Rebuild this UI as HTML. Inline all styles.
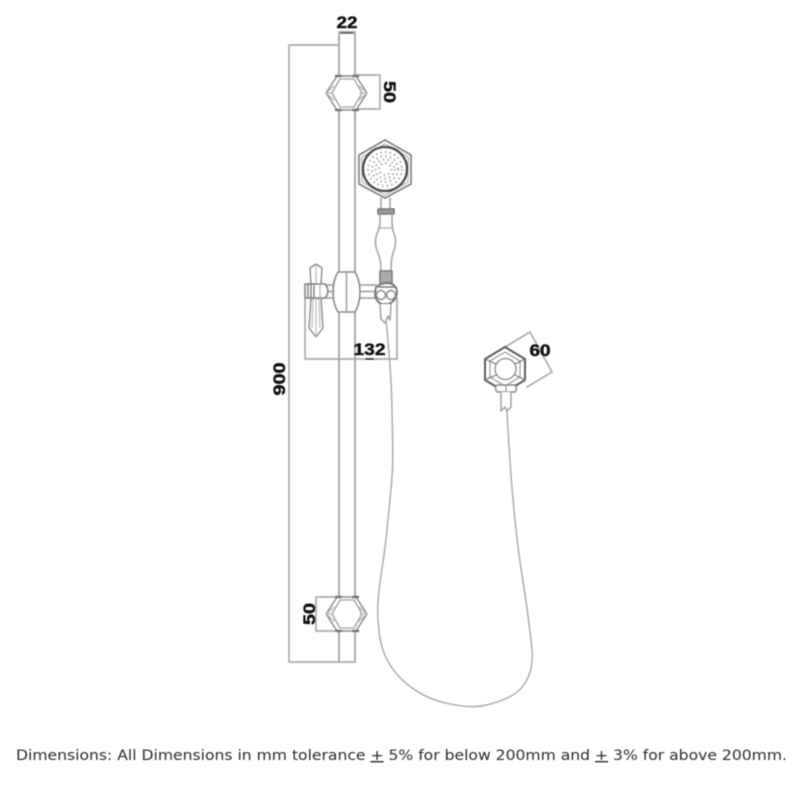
<!DOCTYPE html>
<html>
<head>
<meta charset="utf-8">
<style>
html,body{margin:0;padding:0;background:#fff;width:800px;height:800px;overflow:hidden}
svg{display:block;filter:blur(.45px)}
text{font-family:"Liberation Sans",sans-serif}
.d{font-weight:bold;font-size:17px;fill:#111;stroke:#111;stroke-width:.45px}
</style>
</head>
<body>
<svg width="800" height="800" viewBox="0 0 800 800" fill="none" stroke-linejoin="round" stroke-linecap="round">
<!-- dimension lines -->
<g stroke="#aaa" stroke-width="1.700">
<path d="M339 45H289V662H355"/>
<path d="M355 75H380V109H355"/>
<path d="M339 597H316V631H339"/>
<path d="M305 298V359H397V298"/>
<path d="M505 347L530 332L552 372L527 387"/>
</g>
<!-- rail -->
<g stroke="#a4a4a4" stroke-width="1.800">
<path d="M339 32H355V77M339 32V77"/>
<path d="M339 109V272M355 109V272M339 312V598M355 312V598"/>
<path d="M339 630V662M355 630V662"/>
</g>
<path d="M341 33H353" stroke="#555" stroke-width="1.600"/>
<!-- top bracket -->
<path d="M337 76H356L367 93L356 110H337L326 93Z" fill="#fff" stroke="#8c8c8c" stroke-width="1.500"/>
<path d="M340 79H354L362 93L354 107H340L332 93Z" stroke="#a0a0a0" stroke-width="1.300"/>
<path d="M326 93L334 86M326 93L334 100M326 93H333M367 93L359 86M367 93L359 100M367 93H360" stroke="#b4b4b4" stroke-width="1.300"/>
<path d="M336 76H341M353 76H358M336 110H341M353 110H358" stroke="#777" stroke-width="2.400"/>
<!-- bottom bracket -->
<path d="M337 597H356L367 614L356 631H337L326 614Z" fill="#fff" stroke="#8c8c8c" stroke-width="1.500"/>
<path d="M340 600H354L362 614L354 628H340L332 614Z" stroke="#a0a0a0" stroke-width="1.300"/>
<path d="M326 614L334 607M326 614L334 621M326 614H333M367 614L359 607M367 614L359 621M367 614H360" stroke="#b4b4b4" stroke-width="1.300"/>
<path d="M336 597H341M353 597H358M336 631H341M353 631H358" stroke="#777" stroke-width="2.400"/>
<!-- shower head -->
<path d="M385 140L411 155V184L385 198L359 184V155Z" fill="#fff" stroke="#808080" stroke-width="1.700"/>
<path d="M385 144L408 157V182L385 195L362 182V157Z" stroke="#b0b0b0" stroke-width="1.200"/>
<circle cx="385" cy="169" r="22" fill="#fff" stroke="#4a4a4a" stroke-width="2.200"/>
<g stroke="#a8a8a8" stroke-width="2" stroke-dasharray="1.500 3.200" stroke-linecap="butt">
<circle cx="385" cy="169" r="17"/>
<circle cx="385" cy="169" r="13"/>
<circle cx="385" cy="169" r="9.500"/>
<circle cx="385" cy="169" r="6"/>
</g>
<!-- neck and handle -->
<g stroke="#a0a0a0" stroke-width="1.500">
<path d="M381 198V209M390 198V209"/>
<path d="M378 209H394V214H378Z" fill="#999" stroke="#777"/>
<path d="M380 214V222Q380 226 378 231Q373 242 378 253Q381 260 381 270M392 214V222Q392 226 393 231Q398 242 393 253Q391 260 391 270"/>
<path d="M378 228H393" stroke="#b4b4b4"/>
<path d="M380 271H392V284H380Z" fill="#aaa" stroke="#777"/>
</g>
<!-- slider clamp -->
<path d="M338 272H355Q360 280 360 292Q360 304 355 312H338Q333 304 333 292Q333 280 338 272Z" fill="#fff" stroke="#888" stroke-width="1.600"/>
<path d="M346.500 272V312" stroke="#999" stroke-width="1.500"/>
<!-- arms -->
<g stroke="#999" stroke-width="1.400">
<path d="M322 285H334M322 298H334M322 291.500H334"/>
<path d="M360 285H376M360 298H376M360 291.500H376"/>
</g>
<!-- left lever -->
<path d="M316 264L322 268L321 285H311L310 268Z" fill="#fff" stroke="#888" stroke-width="1.400"/>
<path d="M311 298H321L323 328L316 337L309 328Z" fill="#fff" stroke="#888" stroke-width="1.400"/>
<path d="M316 264V285M316 298V337M313 298L312 328M319 298L320 328" stroke="#b4b4b4" stroke-width="1.100"/>
<path d="M305 284H325Q331 291 325 298H305Z" fill="#fff" stroke="#808080" stroke-width="1.500"/>
<path d="M308 284V298M311 284V298M314 284V298" stroke="#777" stroke-width="1.300"/>
<path d="M320 284V298" stroke="#aaa" stroke-width="1.100"/>
<!-- right holder -->
<path d="M376 287Q381 283 388 283Q396 284 397 291Q397 301 388 304H382Q376 302 375 295Z" fill="#fff" stroke="#707070" stroke-width="1.700"/>
<circle cx="381" cy="295" r="4.500" stroke="#888" stroke-width="1.400"/>
<circle cx="391" cy="295" r="4.500" stroke="#888" stroke-width="1.400"/>
<path d="M379 287H396" stroke="#777" stroke-width="1.600"/>
<path d="M380 304L381 319L385 323L388 316L390 320L391 304" fill="#fff" stroke="#999" stroke-width="1.400"/>
<!-- hose -->
<path d="M386 320Q391 370 391.750 400Q392.500 430 392.750 448.500Q393 467 391.500 483.500Q390 500 387.500 525Q385 550 382 568.500Q379 587 378 602Q377 617 379.500 635Q382 653 391 666.500Q400 680 415 690Q430 700 450 704Q470 708 481.500 706Q493 704 505 699Q517 694 523 686Q529 678 531 668Q533 658 532 649Q531 640 529 623.500Q527 607 522 575Q517 543 513.500 505Q510 467 507 412" stroke="#a6a6a6" stroke-width="1.400"/>
<!-- wall outlet -->
<path d="M505 347L525 359V380L505 392L485 380V359Z" fill="#fff" stroke="#5c5c5c" stroke-width="2"/>
<path d="M505 352L520 361V377L505 386L490 377V361Z" stroke="#999" stroke-width="1.200"/>
<circle cx="505.500" cy="369" r="10.500" fill="#fff" stroke="#888" stroke-width="1.300"/>
<path d="M485 359L496 364M525 359L515 364M485 380L496 375M525 380L515 375" stroke="#777" stroke-width="1.200"/>
<path d="M497 385H515Q518 388 515 392H497Q494 388 497 385Z" fill="#fff" stroke="#888" stroke-width="1.400"/>
<path d="M506 385V392" stroke="#888" stroke-width="1.100"/>
<path d="M501 392V411L505 407L507 411L511 407V392" fill="#fff" stroke="#999" stroke-width="1.400"/>
<!-- dimension text -->
<text class="d" x="347" y="28" text-anchor="middle" textLength="21" lengthAdjust="spacingAndGlyphs">22</text>
<text class="d" transform="translate(384 92) rotate(90)" text-anchor="middle" textLength="22" lengthAdjust="spacingAndGlyphs">50</text>
<text class="d" transform="translate(315 614) rotate(-90)" text-anchor="middle" textLength="22" lengthAdjust="spacingAndGlyphs">50</text>
<text class="d" transform="translate(285 379) rotate(-90)" text-anchor="middle" textLength="33" lengthAdjust="spacingAndGlyphs">900</text>
<text class="d" x="369.500" y="355" text-anchor="middle" textLength="32" lengthAdjust="spacingAndGlyphs">132</text>
<path d="M366 359H373" stroke="#111" stroke-width="1.300"/>
<text class="d" x="540" y="356" text-anchor="middle" textLength="21" lengthAdjust="spacingAndGlyphs">60</text>
<!-- footer -->
<text x="16" y="760" font-size="14" fill="#2a2a2a" textLength="771" lengthAdjust="spacingAndGlyphs" style="font-family:'DejaVu Sans',sans-serif">Dimensions: All Dimensions in mm tolerance <tspan text-decoration="underline">+</tspan> 5% for below 200mm and <tspan text-decoration="underline">+</tspan> 3% for above 200mm.</text>
</svg>
</body>
</html>
